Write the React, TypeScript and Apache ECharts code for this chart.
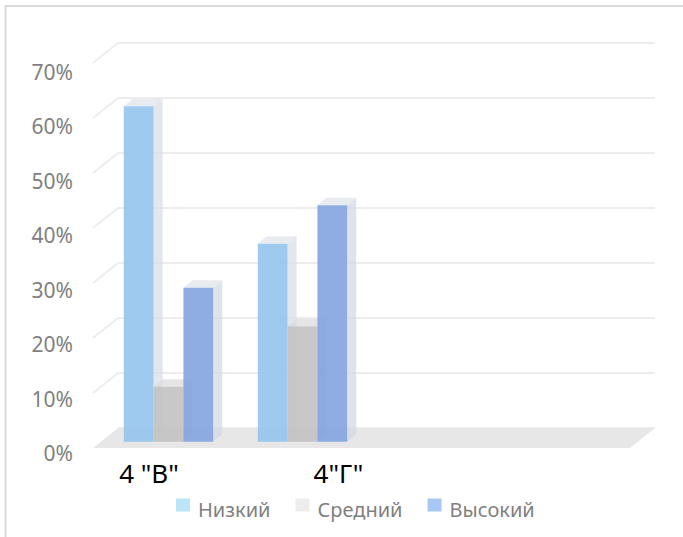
import React, { useEffect, useRef } from "react";
import * as echarts from "echarts";

// Categories (the last two slots are empty, as in the original sheet)
const categories: string[] = ['4 "В"', '4"Г"', "", ""];
const seriesNames: string[] = ["Низкий", "Средний", "Высокий"];
const low: number[] = [61, 36];
const mid: number[] = [10, 21];
const high: number[] = [28, 43];
const yTicks: number[] = [0, 10, 20, 30, 40, 50, 60, 70];

const legendColors = ["#bde5f8", "#ededed", "#a9c7f5"];
const frontColors = ["rgba(150,197,238,0.92)", "rgba(194,194,194,0.9)", "rgba(131,164,224,0.9)"];
const sideColors = ["rgba(214,220,230,0.7)", "rgba(205,205,205,0.7)", "rgba(210,216,228,0.7)"];
const topColors = ["rgba(222,227,234,0.7)", "rgba(218,218,218,0.7)", "rgba(222,227,234,0.7)"];

// pseudo-3D depth offsets
const WALL_DX = -25;
const WALL_DY = 20;
const BAR_DX = 9;
const BAR_DY = -7.5;

const FONT = "'Noto Sans', 'Open Sans', sans-serif";

// square swatch sitting in the upper part of the legend item box
const LEGEND_ICON = "path://M0,0L14,0L14,13L0,13Z M0,22L14,22";

function barRenderer(s: number) {
  return (params: any, api: any) => {
    const cat = api.value(0);
    const val = api.value(1);
    const top = api.coord([cat, val]);
    const base = api.coord([cat, 0]);
    const catW = api.size([1, 0])[0];
    const bw = catW * 0.2225;
    const x0 = top[0] + (s - 1.5) * bw;
    const x1 = x0 + bw;
    const yT = top[1];
    const yB = base[1];
    return {
      type: "group",
      children: [
        {
          type: "polygon",
          shape: {
            points: [
              [x1, yT],
              [x1 + BAR_DX, yT + BAR_DY],
              [x1 + BAR_DX, yB + BAR_DY],
              [x1, yB],
            ],
          },
          style: { fill: sideColors[s] },
        },
        {
          type: "polygon",
          shape: {
            points: [
              [x0, yT],
              [x0 + BAR_DX, yT + BAR_DY],
              [x1 + BAR_DX, yT + BAR_DY],
              [x1, yT],
            ],
          },
          style: { fill: topColors[s] },
        },
        {
          type: "rect",
          shape: { x: x0, y: yT, width: bw, height: yB - yT },
          style: { fill: frontColors[s] },
        },
      ],
    };
  };
}

function wallRenderer(params: any, api: any) {
  const v = api.value(0);
  const p0 = api.coord([0, v]);
  if (v === 0) {
    const p1 = api.coord([1, 0]);
    return {
      type: "polygon",
      shape: {
        points: [
          p0,
          p1,
          [p1[0] + WALL_DX, p1[1] + WALL_DY],
          [p0[0] + WALL_DX, p0[1] + WALL_DY],
        ],
      },
      style: { fill: "#e7e7e7" },
    };
  }
  return {
    type: "line",
    shape: { x1: p0[0], y1: p0[1], x2: p0[0] + WALL_DX, y2: p0[1] + WALL_DY },
    style: { stroke: "#ededed", lineWidth: 2 },
  };
}

export default function App() {
  const ref = useRef<HTMLDivElement>(null);

  useEffect(() => {
    if (!ref.current) return;
    const chart = echarts.init(ref.current, undefined, { renderer: "svg" });
    const values = [low, mid, high];

    chart.setOption({
      animation: false,
      backgroundColor: "#ffffff",
      graphic: [
        {
          type: "rect",
          shape: { x: 5.5, y: 6, width: 720, height: 560 },
          style: { fill: "none", stroke: "#d9d9d9", lineWidth: 2 },
          silent: true,
          z: -1,
        },
      ],
      grid: [
        { left: 118, top: 43, width: 537, height: 385 },
        { left: 93, top: 71.5, width: 537, height: 381.5 },
        { left: 101.5, top: 56.7, width: 536, height: 385 },
      ],
      xAxis: [
        { gridIndex: 0, type: "value", min: 0, max: 1, show: false },
        { gridIndex: 1, type: "value", min: 0, max: 1, show: false },
        {
          gridIndex: 2,
          type: "category",
          data: [
            { value: categories[0], textStyle: { padding: [0, 39, 0, 0] } },
            { value: categories[1], textStyle: { padding: [0, 0, 0, 72] } },
            categories[2],
            categories[3],
          ],
          axisLine: { show: false },
          axisTick: { show: false },
          axisLabel: {
            interval: 0,
            margin: 18,
            color: "#000000",
            fontSize: 26,
            fontFamily: FONT,
          },
        },
      ],
      yAxis: [
        {
          gridIndex: 0,
          type: "value",
          min: 0,
          max: 70,
          interval: 10,
          axisLine: { show: false },
          axisTick: { show: false },
          axisLabel: { show: false },
          splitLine: { show: true, lineStyle: { color: "#ededed", width: 2 } },
        },
        {
          gridIndex: 1,
          type: "value",
          min: 0,
          max: 70,
          interval: 10,
          axisLine: { show: false },
          axisTick: { show: false },
          splitLine: { show: false },
          axisLabel: {
            margin: 20,
            formatter: "{value}%",
            color: "#7f7f7f",
            fontSize: 21,
            fontFamily: FONT,
          },
        },
        { gridIndex: 2, type: "value", min: 0, max: 70, show: false },
      ],
      legend: {
        left: 176,
        top: 498.5,
        padding: 0,
        itemWidth: 14,
        itemHeight: 22,
        itemGap: 25,
        icon: LEGEND_ICON,
        selectedMode: false,
        itemStyle: { borderWidth: 0 },
        textStyle: {
          color: "#7f7f7f",
          fontSize: 20,
          fontFamily: FONT,
          padding: [0, 0, 0, 3],
        },
        data: seriesNames.map((n, i) => ({ name: n, itemStyle: { color: legendColors[i] } })),
      },
      series: [
        {
          type: "custom",
          name: "walls",
          xAxisIndex: 0,
          yAxisIndex: 0,
          silent: true,
          renderItem: wallRenderer,
          data: yTicks.map((t) => [t]),
          encode: { y: 0 },
          z: 1,
        },
        ...seriesNames.map((name, s) => ({
          type: "custom",
          name,
          xAxisIndex: 2,
          yAxisIndex: 2,
          itemStyle: { color: legendColors[s] },
          renderItem: barRenderer(s),
          data: values[s].map((v, i) => [i, v]),
          encode: { x: 0, y: 1 },
          z: 2,
        })),
      ],
    });

    return () => chart.dispose();
  }, []);

  return (
    <div
      ref={ref}
      style={{ position: "fixed", left: 0, top: 0, width: 683, height: 537 }}
    />
  );
}
